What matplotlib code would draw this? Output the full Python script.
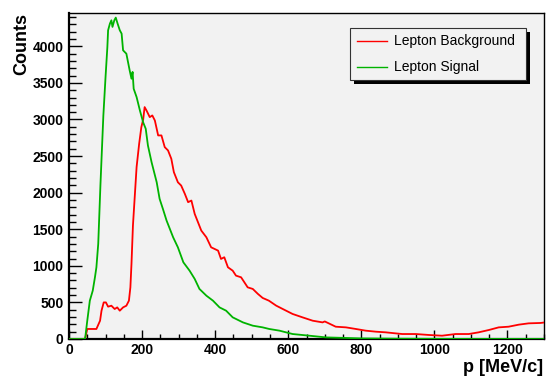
import matplotlib
matplotlib.use("Agg")
import matplotlib.pyplot as plt
from matplotlib.ticker import MultipleLocator
from matplotlib.patches import Rectangle

# ---- data ----
green_p = [0, 44, 50, 57, 65, 71, 75, 80, 83, 86, 90, 94, 100, 105, 107, 112, 116, 119, 124, 128,
           133, 139, 144, 148, 157, 166, 171, 174, 177, 185, 194, 203, 210, 216, 226, 240, 248, 257,
           267, 285, 298, 313, 330, 344, 357, 376, 394, 412, 430, 448, 476, 503, 530, 548, 576, 612,
           658, 703, 752, 800, 900, 1000, 1100, 1200, 1300]
green_c = [0, 0, 250, 524, 661, 843, 980, 1300, 1700, 2100, 2577, 3050, 3580, 3990, 4219, 4310, 4355,
           4265, 4355, 4392, 4310, 4219, 4173, 3945, 3899, 3671, 3557, 3650, 3420, 3306, 3124, 2960,
           2873, 2645, 2416, 2142, 1915, 1778, 1619, 1390, 1253, 1048, 934, 821, 684, 592, 524, 432,
           387, 296, 227, 182, 159, 137, 114, 68, 45, 22, 15, 8, 4, 2, 1, 1, 0]

red_p = [0, 44, 50, 75, 85, 89, 95, 101, 107, 116, 125, 132, 139, 148, 157, 164, 168, 171, 175, 185,
         192, 198, 203, 207, 212, 221, 228, 235, 244, 253, 262, 271, 280, 287, 298, 307, 317, 326,
         335, 344, 353, 362, 376, 389, 408, 416, 425, 435, 448, 457, 471, 489, 503, 517, 530, 547,
         567, 585, 612, 639, 667, 694, 700, 730, 758, 785, 812, 840, 867, 894, 912, 949, 985, 1021,
         1058, 1094, 1121, 1149, 1176, 1203, 1231, 1258, 1290, 1300]
red_c = [0, 0, 137, 137, 250, 387, 500, 500, 442, 455, 410, 432, 387, 432, 455, 524, 706, 1026, 1550,
         2350, 2668, 2895, 3000, 3169, 3124, 3032, 3055, 2986, 2782, 2782, 2622, 2577, 2463, 2280,
         2142, 2097, 1984, 1870, 1892, 1710, 1596, 1482, 1390, 1253, 1208, 1094, 1117, 980, 934, 866,
         843, 706, 684, 616, 561, 524, 456, 410, 342, 296, 250, 227, 240, 168, 159, 137, 114, 100, 91,
         77, 68, 68, 55, 45, 68, 68, 91, 123, 159, 168, 196, 214, 219, 225]

series_names = ["Lepton Background", "Lepton Signal"]
x_label = "p [MeV/c]"
y_label = "Counts"

plt.rcParams['font.family'] = ['Liberation Sans', 'DejaVu Sans']

fig = plt.figure(figsize=(5.48, 3.80), dpi=100)
fig.patch.set_facecolor('white')
W, H = 548, 380
ax = fig.add_axes([69 / W, 1 - 339 / H, (544 - 69) / W, (339 - 13) / H])
ax.set_facecolor('#f2f2f2')

red_col = '#ff0000'
green_col = '#00b300'
ax.plot(red_p, red_c, color=red_col, lw=1.3, label=series_names[0], zorder=3)
ax.plot(green_p, green_c, color=green_col, lw=1.3, label=series_names[1], zorder=4)

ax.set_xlim(0, 1300)
ax.set_ylim(0, 4455)

ax.xaxis.set_major_locator(MultipleLocator(200))
ax.xaxis.set_minor_locator(MultipleLocator(50))
ax.yaxis.set_major_locator(MultipleLocator(500))
ax.yaxis.set_minor_locator(MultipleLocator(100))

ax.tick_params(axis='x', which='major', direction='in', length=6.5, width=1.0, pad=3,
               labelsize=10, top=False)
ax.tick_params(axis='x', which='minor', direction='in', length=3.3, width=1.0, top=False)
ax.tick_params(axis='y', which='major', direction='in', length=9.5, width=1.0, pad=4,
               labelsize=10, right=False)
ax.tick_params(axis='y', which='minor', direction='in', length=5, width=1.0, right=False)
for lab in ax.get_xticklabels() + ax.get_yticklabels():
    lab.set_fontweight('bold')

for s in ax.spines.values():
    s.set_linewidth(1.0)
    s.set_color('black')
ax.spines['left'].set_linewidth(1.6)
ax.spines['bottom'].set_linewidth(1.6)

fig.text(543 / W, 1 - 368 / H, x_label, ha='right', va='center', fontsize=13, fontweight='bold')
fig.text(22 / W, 1 - 13 / H, y_label, ha='center', va='top', rotation=90, fontsize=13,
         fontweight='bold')

# legend box with shadow (ROOT style)
lx0, ly0, lx1, ly1 = 350, 28, 526, 80
shadow = Rectangle((lx0 + 4, 1 - (ly1 + 4) / H), 0, 0)
fig.patches.append(Rectangle(((lx0 + 4) / W, 1 - (ly1 + 4) / H), (lx1 - lx0) / W, (ly1 - ly0) / H,
                             transform=fig.transFigure, facecolor='black', edgecolor='black',
                             lw=0, zorder=10))
fig.patches.append(Rectangle((lx0 / W, 1 - ly1 / H), (lx1 - lx0) / W, (ly1 - ly0) / H,
                             transform=fig.transFigure, facecolor='#f2f2f2', edgecolor='#333333',
                             lw=0.8, zorder=11))
for i, (name, col) in enumerate(zip(series_names, [red_col, green_col])):
    yy = 1 - (41 + i * 26) / H
    fig.add_artist(plt.Line2D([357 / W, 387 / W], [yy, yy], transform=fig.transFigure,
                              color=col, lw=1.0, zorder=12))
    fig.text(394 / W, yy, name, ha='left', va='center', fontsize=10, zorder=12)

fig.savefig('out.png', dpi=100)
